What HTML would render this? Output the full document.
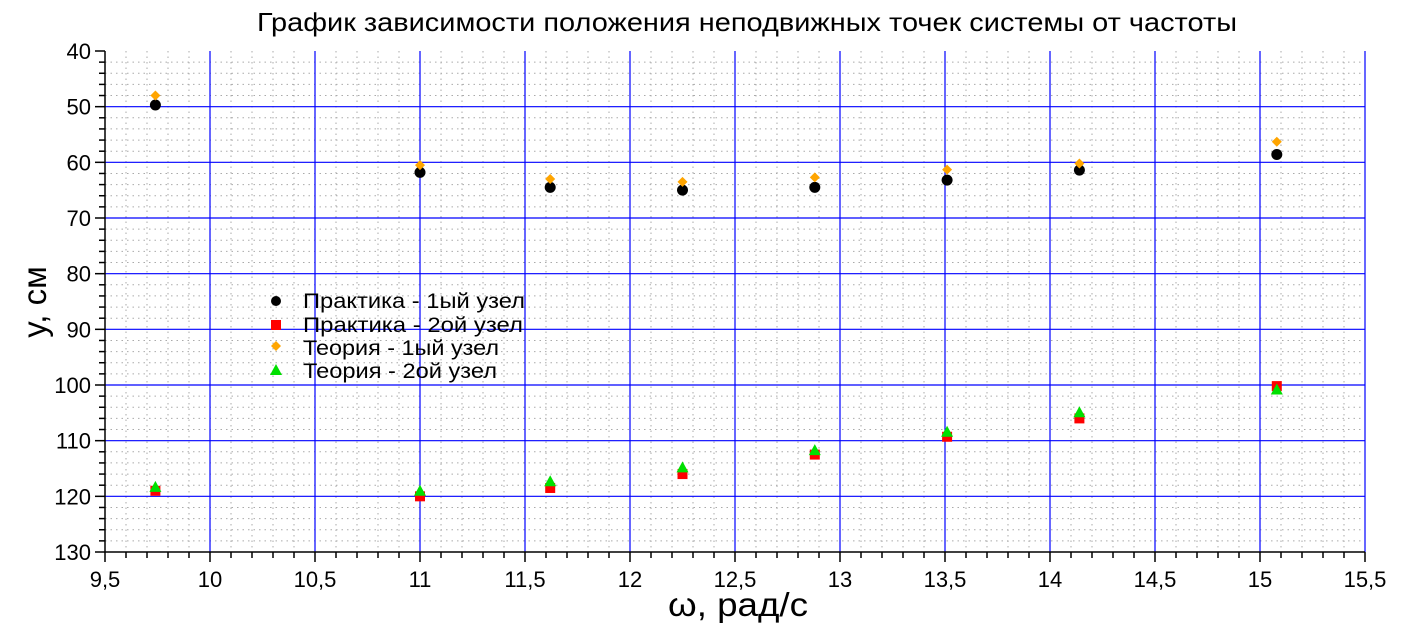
<!DOCTYPE html>
<html><head><meta charset="utf-8"><style>
html,body{margin:0;padding:0;background:#fff;}
svg{display:block;font-family:"Liberation Sans",sans-serif;}
</style></head><body>
<svg id="chart" width="1405" height="634">
<text x="257" y="31" font-size="26" textLength="980" lengthAdjust="spacingAndGlyphs">График зависимости положения неподвижных точек системы от частоты</text>
<g id="grid"></g>
<g id="axes"></g>
<g id="marks"></g>
<text x="668" y="616" font-size="33" textLength="140" lengthAdjust="spacingAndGlyphs">ω, рад/с</text>
<text transform="translate(46,302) rotate(-90)" font-size="33" text-anchor="middle">y, см</text>
<g font-size="21">
<g><circle cx="276" cy="301" r="5" fill="#000"/><text x="303" y="308" textLength="222" lengthAdjust="spacingAndGlyphs">Практика - 1ый узел</text></g>
<g><rect x="271" y="320" width="10" height="10" fill="#f00"/><text x="303" y="332" textLength="220" lengthAdjust="spacingAndGlyphs">Практика - 2ой узел</text></g>
<g><path d="M276,341 L281,346 L276,351 L271,346Z" fill="#ffa500"/><text x="303" y="355" textLength="196" lengthAdjust="spacingAndGlyphs">Теория - 1ый узел</text></g>
<g><path d="M276,364 L282,375 L270,375Z" fill="#00e000"/><text x="303" y="378" textLength="194" lengthAdjust="spacingAndGlyphs">Теория - 2ой узел</text></g>
</g>
</svg>
<script>
const omega=[9.74,11.0,11.62,12.25,12.88,13.51,14.14,15.08];
const practice1=[49.7,61.8,64.5,65.0,64.5,63.2,61.4,58.6];
const theory1=[48.0,60.5,63.0,63.5,62.7,61.3,60.2,56.3];
const practice2=[119.0,120.0,118.5,116.0,112.5,109.3,106.0,100.2];
const theory2=[118.3,119.0,117.3,114.8,111.7,108.4,104.9,100.8];
const xTicks=["9,5","10","10,5","11","11,5","12","12,5","13","13,5","14","14,5","15","15,5"];
const yTicks=["40","50","60","70","80","90","100","110","120","130"];
const NS="http://www.w3.org/2000/svg";
const X0=105,X1=1365,Y0=51,Y1=552;
function sx(v){return X0+(v-9.5)/6*(X1-X0);}
function sy(v){return Y0+(v-40)/90*(Y1-Y0);}
function mk(t,a,p){const e=document.createElementNS(NS,t);for(const k in a)e.setAttribute(k,a[k]);p.appendChild(e);return e;}
const grid=document.getElementById('grid'),axes=document.getElementById('axes'),marks=document.getElementById('marks');
for(let i=0;i<=60;i++){const v=9.5+i*0.1,x=sx(v);
 if(i%5!==0){const l=mk('line',{x1:x,x2:x,y1:Y0,y2:Y1,stroke:'#aaa','stroke-dasharray':'1.5,4','stroke-width':1},grid);
 
 }
 const t=mk('line',{x1:x,x2:x,y1:Y1,y2:Y1+(i%5===0?10:6),stroke:'#000','stroke-width':1.5},axes);
 
 }
for(let i=0;i<=45;i++){const v=40+i*2,y=sy(v);
 if(i%5!==0){const l=mk('line',{x1:X0,x2:X1,y1:y,y2:y,stroke:'#aaa','stroke-dasharray':'1.5,4','stroke-width':1},grid);
 
 }
 const t=mk('line',{x1:X0-(i%5===0?10:6),x2:X0,y1:y,y2:y,stroke:'#000','stroke-width':1.5},axes);
 
 }
xTicks.forEach((s,i)=>{const x=sx(9.5+i*0.5);
 if(i>0){const l=mk('line',{x1:x,x2:x,y1:Y0,y2:Y1,stroke:'#00f','stroke-width':1.2},grid);
 
 }
 const t=mk('text',{x:x,y:Y1+35,'font-size':22,'text-anchor':'middle'},axes);t.textContent=s;
 
 });
yTicks.forEach((s,i)=>{const y=sy(+s);
 if(i>0&&i<yTicks.length-1){const l=mk('line',{x1:X0,x2:X1,y1:y,y2:y,stroke:'#00f','stroke-width':1.2},grid);
 
 }
 const t=mk('text',{x:X0-14,y:y+8,'font-size':22,'text-anchor':'end'},axes);t.textContent=s;
 
 });
const ax=mk('path',{d:`M${X0},${Y0} L${X0},${Y1} L${X1},${Y1}`,fill:'none',stroke:'#000','stroke-width':1.5},axes);


omega.forEach((w,i)=>{const x=sx(w);let e,y;
 y=sy(practice2[i]);e=mk('rect',{x:x-5,y:y-5,width:10,height:10,fill:'#f00'},marks);
 
 
 y=sy(theory2[i]);e=mk('path',{d:`M${x},${y-6} L${x+6},${y+5} L${x-6},${y+5}Z`,fill:'#00e000'},marks);
 
 
 y=sy(practice1[i]);e=mk('circle',{cx:x,cy:y,r:5.5,fill:'#000'},marks);
 
 
 y=sy(theory1[i]);e=mk('path',{d:`M${x},${y-5} L${x+5},${y} L${x},${y+5} L${x-5},${y}Z`,fill:'#ffa500'},marks);
 
 });
</script>
</body></html>
